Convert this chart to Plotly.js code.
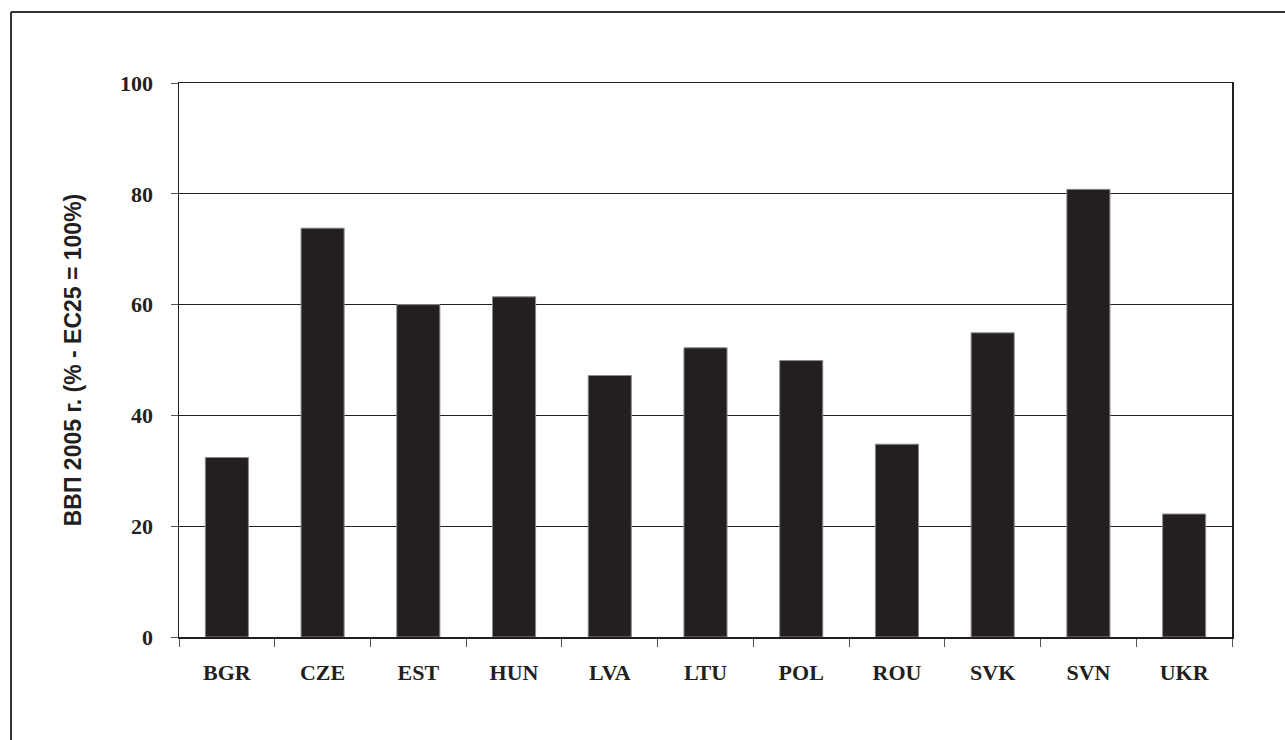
<!DOCTYPE html>
<html>
<head>
<meta charset="utf-8">
<script src="https://cdn.plot.ly/plotly-3.0.1.min.js"></script>
<style>
html,body{margin:0;padding:0;background:#fff;}
#chart{width:1285px;height:740px;}
</style>
</head>
<body>
<div id="chart"></div>
<script>
const categories = ["BGR","CZE","EST","HUN","LVA","LTU","POL","ROU","SVK","SVN","UKR"];
const gdpValues = [32.4, 73.8, 60.0, 61.4, 47.2, 52.2, 49.9, 34.8, 54.9, 80.8, 22.2];
const yTicks = [0, 20, 40, 60, 80, 100];
const yTitle = "ВВП 2005 г. (% - ЕС25 = 100%)";

const W = 1285, H = 740;
const mL = 179, mR = 53, mT = 83, mB = 103;
const pw = W - mL - mR, ph = H - mT - mB;
function px2x(p){ return (p - mL) / pw; }
function py2y(p){ return (H - mB - p) / ph; }

const ink = "#231f20";

const trace = {
  type: "bar",
  x: categories,
  y: gdpValues,
  marker: {color: ink, line: {color: "#8a8a8a", width: 1}},
  hoverinfo: "x+y"
};

const layout = {
  width: W, height: H,
  margin: {l: mL, r: mR, t: mT, b: mB, pad: 0},
  paper_bgcolor: "#fff",
  plot_bgcolor: "#fff",
  showlegend: false,
  bargap: 0.55,
  xaxis: {
    type: "category",
    showline: true, mirror: true, linecolor: ink, linewidth: 1.5,
    showgrid: false, zeroline: false,
    ticks: "outside", tickson: "boundaries", ticklen: 8, tickwidth: 1, tickcolor: "#555",
    tickfont: {family: "Liberation Serif", size: 22, color: ink, weight: "bold"},
    ticklabelstandoff: 15
  },
  yaxis: {
    range: [0, 100],
    tickvals: yTicks,
    showline: true, mirror: true, linecolor: ink, linewidth: 1.5,
    showgrid: true, gridcolor: ink, gridwidth: 1.3,
    zeroline: false,
    ticks: "outside", ticklen: 7, tickwidth: 1, tickcolor: "#555",
    tickfont: {family: "Liberation Serif", size: 22, color: ink, weight: "bold"},
    ticklabelstandoff: 13,
    title: {text: yTitle, font: {family: "Liberation Sans", size: 23, color: ink, weight: "bold"}, standoff: 32}
  },
  shapes: [
    {type: "line", xref: "paper", yref: "paper", x0: px2x(11), x1: px2x(1300), y0: py2y(12), y1: py2y(12), line: {color: "#333", width: 2}},
    {type: "line", xref: "paper", yref: "paper", x0: px2x(11), x1: px2x(11), y0: py2y(12), y1: py2y(760), line: {color: "#333", width: 2}}
  ]
};

Plotly.newPlot("chart", [trace], layout, {displayModeBar: false, staticPlot: true});
</script>
</body>
</html>
